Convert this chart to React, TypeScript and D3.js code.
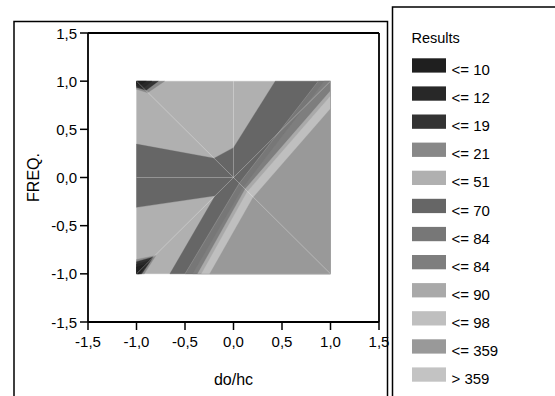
import React from 'react';
import * as d3 from 'd3';

// legend classes (label + gray level)
const legendLabels = ['<= 10', '<= 12', '<= 19', '<= 21', '<= 51', '<= 70', '<= 84', '<= 84', '<= 90', '<= 98', '<= 359', '> 359'];
const legendColors = ['#1f1f1f', '#282828', '#333333', '#888888', '#b0b0b0', '#666666', '#777777', '#7e7e7e', '#a9a9a9', '#bfbfbf', '#999999', '#c3c3c3'];

const axisTicks = [-1.5, -1.0, -0.5, 0.0, 0.5, 1.0, 1.5];

// filled contour regions, in data units (do/hc, FREQ.), painted in this order
const region51 = [[-1, 1], [1, 1], [1, -1], [-1, -1]];
const region70 = [[-1, 0.347], [-0.2, 0.2], [0, 0.31], [0.43, 1], [1, 1], [1, -1], [-0.656, -1], [-0.19, -0.19], [-1, -0.31]];
const edge84a = [[0.874, 1], [0.06, -0.06], [-0.5, -1]];
const edge84b = [[0.935, 1], [0.1, -0.1], [-0.42, -1]];
const edge90 = [[1, 0.9], [0.12, -0.12], [-0.37, -1]];
const edge98 = [[1, 0.846], [0.14, -0.15], [-0.33, -1]];
const edge359 = [[1, 0.714], [0.2, -0.21], [-0.245, -1]];
const cornerTop21 = [[-1, 1], [-0.71, 1], [-0.885, 0.88], [-1, 0.915]];
const cornerTop19 = [[-1, 1], [-0.775, 1], [-0.9, 0.905], [-1, 0.935]];
const cornerTop12 = [[-1, 1], [-0.84, 1], [-0.93, 0.93], [-1, 0.95]];
const cornerTop10 = [[-1, 1], [-0.9, 1], [-0.96, 0.96], [-1, 0.97]];
const cornerBot21 = [[-1, -1], [-0.92, -1], [-0.8, -0.81], [-1, -0.85]];
const cornerBot19 = [[-1, -1], [-0.945, -1], [-0.827, -0.825], [-1, -0.874]];
const cornerBot12 = [[-1, -1], [-0.96, -1], [-0.86, -0.86], [-1, -0.9]];
const cornerBot10 = [[-1, -1], [-0.975, -1], [-0.9, -0.9], [-1, -0.93]];

// triangulation edges still visible on top of the fill
const meshEnds = [[-1, 1], [0, 1], [-1, 0], [-1, -1], [1, -1], [1, 1]];

const font = 'Arial, "Liberation Sans", Helvetica, sans-serif';

export default function App() {
  const x = d3.scaleLinear().domain([-1.5, 1.5]).range([88, 379]);
  const y = d3.scaleLinear().domain([-1.5, 1.5]).range([322, 33]);
  const fmt = (v) => d3.format('.1f')(v).replace('.', ',').replace('−', '-');

  const poly = d3.line().x((d) => x(d[0])).y((d) => y(d[1]));
  const closed = (pts) => poly(pts) + 'Z';
  // region on the lower right side of a band edge
  const rightOf = (edge) => closed([...edge, [1, -1], [1, 1]]);

  const fills = [
    { d: closed(region51), c: legendColors[4] },
    { d: closed(region70), c: legendColors[5] },
    { d: rightOf(edge84a), c: legendColors[6] },
    { d: rightOf(edge84b), c: legendColors[7] },
    { d: rightOf(edge90), c: legendColors[8] },
    { d: rightOf(edge98), c: legendColors[9] },
    { d: rightOf(edge359), c: legendColors[10] },
    { d: closed(cornerTop21), c: legendColors[3] },
    { d: closed(cornerTop19), c: legendColors[2] },
    { d: closed(cornerTop12), c: legendColors[1] },
    { d: closed(cornerTop10), c: legendColors[0] },
    { d: closed(cornerBot21), c: legendColors[3] },
    { d: closed(cornerBot19), c: legendColors[2] },
    { d: closed(cornerBot12), c: legendColors[1] },
    { d: closed(cornerBot10), c: legendColors[0] },
  ];

  const legendY0 = 58.3;
  const legendStep = 28.1;

  return (
    <svg width={555} height={396} style={{ position: 'fixed', left: 0, top: 0, background: '#fff' }}>
      {/* outer frames */}
      <rect x={14} y={21.5} width={373.5} height={390} fill="none" stroke="#000" strokeWidth={1.5} />
      <rect x={392.5} y={7} width={180} height={400} fill="none" stroke="#000" strokeWidth={1.5} />

      {/* contour fills */}
      {fills.map((f, i) => (
        <path key={i} d={f.d} fill={f.c} stroke={f.c} strokeWidth={0.3} />
      ))}
      {meshEnds.map((p, i) => (
        <line key={'m' + i} x1={x(0)} y1={y(0)} x2={x(p[0])} y2={y(p[1])}
          stroke="#fff" strokeOpacity={0.3} strokeWidth={1} />
      ))}
      <path d={poly(edge84a)} fill="none" stroke="#fff" strokeOpacity={0.2} strokeWidth={0.8} />

      {/* plot box */}
      <line x1={x(-1.5)} x2={x(1.5)} y1={y(1.5)} y2={y(1.5)} stroke="#000" strokeWidth={1.8} />
      <line x1={x(1.5)} x2={x(1.5)} y1={y(1.5)} y2={y(-1.5)} stroke="#000" strokeWidth={1.8} />
      <line x1={x(-1.5)} x2={x(1.5)} y1={y(-1.5)} y2={y(-1.5)} stroke="#000" strokeWidth={1.8} />
      <line x1={x(-1.5)} x2={x(-1.5)} y1={y(1.5)} y2={y(-1.5)} stroke="#000" strokeWidth={1.8} />

      {/* x axis */}
      {axisTicks.map((t) => (
        <g key={'x' + t}>
          <line x1={x(t)} x2={x(t)} y1={y(-1.5)} y2={y(-1.5) + 8} stroke="#000" strokeWidth={1.5} />
          <text x={x(t)} y={y(-1.5) + 25} textAnchor="middle" fontFamily={font} fontSize={15}>{fmt(t)}</text>
        </g>
      ))}
      {/* y axis */}
      {axisTicks.map((t) => (
        <g key={'y' + t}>
          <line x1={x(-1.5) - 8} x2={x(-1.5)} y1={y(t)} y2={y(t)} stroke="#000" strokeWidth={1.5} />
          <text x={77} y={y(t) + 5.5} textAnchor="end" fontFamily={font} fontSize={15}>{fmt(t)}</text>
        </g>
      ))}
      <text x={233.5} y={385} textAnchor="middle" fontFamily={font} fontSize={16}>do/hc</text>
      <text transform="translate(39,177.5) rotate(-90)" textAnchor="middle" fontFamily={font} fontSize={16}>FREQ.</text>

      {/* legend */}
      <text x={411.5} y={43.3} fontFamily={font} fontSize={14.5}>Results</text>
      {legendLabels.map((lab, i) => (
        <g key={'l' + i}>
          <rect x={412} y={legendY0 + i * legendStep} width={34} height={14.3} fill={legendColors[i]} />
          <text x={451.5} y={legendY0 + i * legendStep + 16.7} fontFamily={font} fontSize={15}>{lab}</text>
        </g>
      ))}
    </svg>
  );
}
